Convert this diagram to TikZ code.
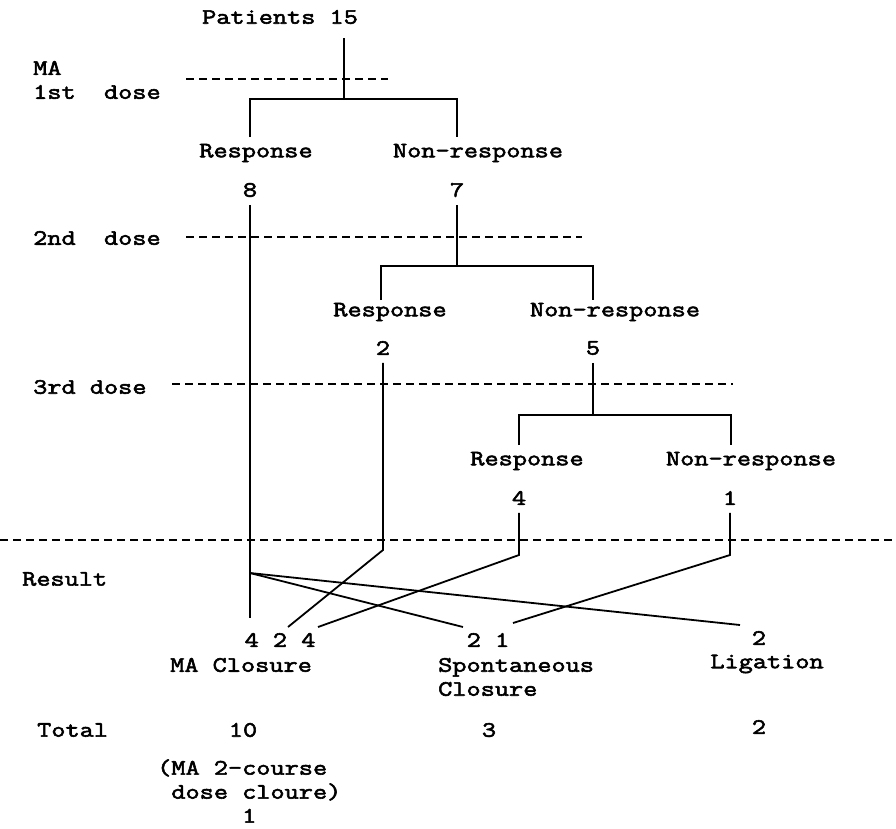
\documentclass[tikz,border=0pt]{standalone}
\usepackage{fontspec}
\newfontfamily\typew{Latin Modern Mono}[FakeStretch=1.25, FakeBold=2.6]
\tikzset{
  txt/.style={font=\typew\fontsize{22}{24}\selectfont, inner sep=0pt},
  num/.style={txt, outer sep=8pt},
  tree/.style={line width=1.8pt},
  doseln/.style={line width=1.5pt, dash pattern=on 8pt off 5pt},
}

\begin{document}
\begin{tikzpicture}[x=1pt, y=-1pt]
  \useasboundingbox (0,0) rectangle (896,828);
  % dose rows
  \node[txt, anchor=west, align=left] (dose1) at (33,80) {MA\\1st~~dose};
  \node[txt, anchor=west] (dose2) at (33,238) {2nd~~dose};
  \node[txt, anchor=west] (dose3) at (33,387) {3rd dose};
  \node[txt, anchor=west] (res) at (22,579) {Result};
  \node[txt, anchor=west] (tot) at (37,730) {Total};
  \draw[doseln] (186,79) -- (388,79);
  \draw[doseln] (186,237) -- (582,237);
  \draw[doseln] (172,384) -- (733,384);
  \draw[doseln] (0,540) -- (896,540);
  % tree labels
  \node[txt] (pat) at (280,17) {Patients 15};
  \node[txt] (resp1) at (256,153) {Response};
  \node[txt] (non1) at (478,153) {Non-response};
  \node[num] (n8) at (250,190) {8};
  \node[num] (n7) at (457,190) {7};
  \node[txt] (resp2) at (390,312) {Response};
  \node[txt] (non2) at (615,312) {Non-response};
  \node[num] (n2) at (383,348) {2};
  \node[num] (n5) at (593,348) {5};
  \node[txt] (resp3) at (527,461) {Response};
  \node[txt] (non3) at (751,461) {Non-response};
  \node[num] (n4) at (519,498) {4};
  \node[num] (n1) at (730,498) {1};
  % branches
  \coordinate (s1) at (344,99);
  \coordinate (l1) at (250,137);
  \coordinate (r1) at (457,137);
  \draw[tree] (344,38) -- (s1);
  \draw[tree] (l1) |- (r1 |- s1) -- (r1);
  \coordinate (s2) at (457,266);
  \coordinate (l2) at (381,300);
  \coordinate (r2) at (593,300);
  \draw[tree] (n7) -- (s2);
  \draw[tree] (l2) |- (r2 |- s2) -- (r2);
  \coordinate (s3) at (593,415);
  \coordinate (l3) at (519,445);
  \coordinate (r3) at (731,445);
  \draw[tree] (n5) -- (s3);
  \draw[tree] (l3) |- (r3 |- s3) -- (r3);
  % results
  \coordinate (hub) at (250,573);
  \coordinate (e8) at (250,618);
  \coordinate (k2) at (383,550);
  \coordinate (e2) at (288,627);
  \coordinate (k4) at (519,555);
  \coordinate (e4) at (318,627);
  \coordinate (k1) at (730,555);
  \coordinate (e1) at (513,623);
  \coordinate (esp) at (463,627);
  \coordinate (elig) at (740,625);
  \draw[tree] (n8) -- (e8);
  \draw[tree] (n2) -- (k2) -- (e2);
  \draw[tree] (n4) -- (k4) -- (e4);
  \draw[tree] (n1) -- (k1) -- (e1);
  \draw[tree] (hub) -- (esp);
  \draw[tree] (hub) -- (elig);
  \node[txt] (ma424) at (280,640) {4 2 4};
  \node[txt] (maclo) at (241,665) {MA Closure};
  \node[txt] (sp21) at (488,640) {2 1};
  \node[txt, anchor=west, align=left] (spclo) at (438,677) {Spontaneous\\Closure};
  \node[txt] (lig2) at (759,638) {2};
  \node[txt] (lig) at (767,664) {Ligation};
  \node[txt] (t10) at (243,730) {10};
  \node[txt] (t3) at (489,730) {3};
  \node[txt] (t2) at (759,727) {2};
  \node[txt, anchor=west, align=left] (note) at (157,791) {(MA 2-course\\~dose cloure)\\~~~~~~1};
\end{tikzpicture}
\end{document}
